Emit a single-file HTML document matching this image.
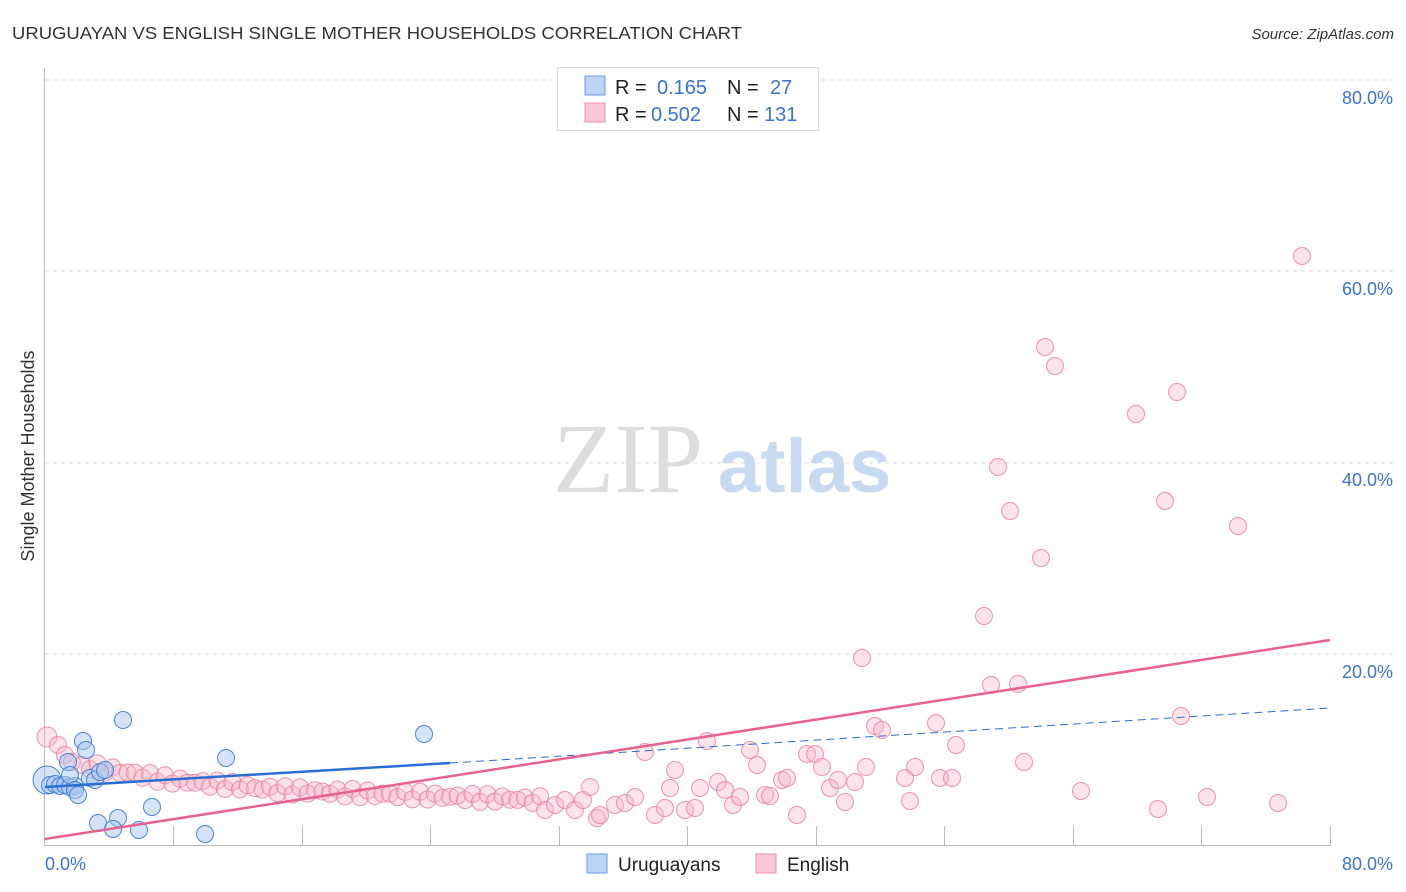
<!DOCTYPE html>
<html><head><meta charset="utf-8"><style>
body{margin:0;background:#fff;width:1406px;height:892px;overflow:hidden;font-family:"Liberation Sans",sans-serif}
svg{position:absolute;left:0;top:0}
</style></head><body>
<svg id="s" width="1406" height="892" xmlns="http://www.w3.org/2000/svg">
<text x="12" y="39" font-size="17.5" fill="#333" textLength="730" lengthAdjust="spacingAndGlyphs">URUGUAYAN VS ENGLISH SINGLE MOTHER HOUSEHOLDS CORRELATION CHART</text>
<text x="1394" y="39" font-size="15" fill="#333" font-style="italic" text-anchor="end">Source: ZipAtlas.com</text>
<g stroke="#ddd" stroke-dasharray="4,4" stroke-width="1">
<line x1="45" y1="80" x2="1393" y2="80"/><line x1="45" y1="271" x2="1393" y2="271"/>
<line x1="45" y1="463" x2="1393" y2="463"/><line x1="45" y1="654" x2="1393" y2="654"/>
</g>
<line x1="44.5" y1="68" x2="44.5" y2="846" stroke="#bbb"/>
<line x1="44" y1="845.5" x2="1331" y2="845.5" stroke="#bbb"/>
<g stroke="#bbb"><line x1="173.5" y1="826" x2="173.5" y2="845"/><line x1="302.5" y1="826" x2="302.5" y2="845"/><line x1="430.5" y1="826" x2="430.5" y2="845"/><line x1="559.5" y1="826" x2="559.5" y2="845"/><line x1="687.5" y1="826" x2="687.5" y2="845"/><line x1="816.5" y1="826" x2="816.5" y2="845"/><line x1="944.5" y1="826" x2="944.5" y2="845"/><line x1="1073.5" y1="826" x2="1073.5" y2="845"/><line x1="1201.5" y1="826" x2="1201.5" y2="845"/><line x1="1330.5" y1="826" x2="1330.5" y2="845"/></g>
<g font-size="18" fill="#3b73d1" text-anchor="end">
<text x="1393" y="104">80.0%</text><text x="1393" y="295">60.0%</text><text x="1393" y="486">40.0%</text><text x="1393" y="678">20.0%</text>
</g>
<text x="45" y="870" font-size="18" fill="#3b73d1">0.0%</text>
<text x="1393" y="870" font-size="18" fill="#3b73d1" text-anchor="end">80.0%</text>
<text transform="translate(34,456) rotate(-90)" font-size="18" fill="#333" text-anchor="middle">Single Mother Households</text>
<text x="553" y="492" font-size="100" fill="#ddd" font-family="Liberation Serif,serif">ZIP</text>
<text x="718" y="492" font-size="76" fill="#c8daf2" font-weight="bold">atlas</text>
<g id="pk" fill="#f7b6c8" fill-opacity="0.4" stroke="#e87a9b" stroke-opacity="0.8" stroke-width="1"></g>
<g id="bl" fill="#a9c8ef" fill-opacity="0.5" stroke="#4a86d6" stroke-width="1"></g>
<line x1="45" y1="787" x2="450" y2="763" stroke="#2a6dd4" stroke-width="2.5"/>
<line x1="450" y1="763" x2="1330" y2="708" stroke="#2a6dd4" stroke-width="1" stroke-dasharray="8,5"/>
<line x1="45" y1="839" x2="1330" y2="640" stroke="#e8628e" stroke-width="2.5"/>
<rect x="557.5" y="67.5" width="261" height="63" fill="#fff" stroke="#ddd"/>
<rect x="585" y="76" width="20" height="19" fill="#bcd5f5" stroke="#6b9be0"/>
<rect x="585" y="103" width="20" height="19" fill="#fcc8d7" stroke="#ec90ac"/>
<g font-size="20"><text x="615" y="94" fill="#222">R =</text><text x="657" y="94" fill="#3b73d1">0.165</text><text x="727" y="94" fill="#222">N =</text><text x="770" y="94" fill="#3b73d1">27</text>
<text x="615" y="121" fill="#222">R =</text><text x="651" y="121" fill="#3b73d1">0.502</text><text x="727" y="121" fill="#222">N =</text><text x="764" y="121" fill="#3b73d1">131</text></g>
<rect x="587" y="854" width="20" height="19" fill="#bcd5f5" stroke="#6b9be0"/>
<text x="618" y="871" font-size="19" fill="#222">Uruguayans</text>
<rect x="756" y="854" width="20" height="19" fill="#fcc8d7" stroke="#ec90ac"/>
<text x="787" y="871" font-size="19" fill="#222">English</text>
</svg>
<script>
var NS="http://www.w3.org/2000/svg";
function c(g,x,y,r){var e=document.createElementNS(NS,"circle");e.setAttribute("cx",x);e.setAttribute("cy",y);e.setAttribute("r",r||8.5);document.getElementById(g).appendChild(e);}
c("pk",47,737,10);c("pk",58,745);c("pk",65,755);c("pk",72,762);c("pk",82,765);
var pts=[[48,740],[70,760],[100,768],[170,780],[280,790],[400,795],[540,800]];
for(var x=90;x<=540;x+=7.5){var y;for(var i=0;i<pts.length-1;i++){if(x>=pts[i][0]&&x<=pts[i+1][0]){var t=(x-pts[i][0])/(pts[i+1][0]-pts[i][0]);y=pts[i][1]+t*(pts[i+1][1]-pts[i][1]);}}y+=Math.sin(x*0.37)*4;c("pk",x,y);}
[[545,810],[555,805],[565,800],[575,810],[583,800],[590,787],[597,818],[600,815],[615,805],[625,803],[635,797],[645,752],[655,815],[665,808],[670,788],[675,770],[685,810],[695,808],[700,788],[707,741],[718,782],[725,790],[733,805],[740,797],[750,750],[757,765],[765,795],[770,796],[782,780],[787,778],[797,815],[807,754],[815,754],[822,767],[830,788],[838,780],[845,802],[855,782],[862,658],[866,767],[875,726],[882,730],[905,778],[910,801],[915,767],[936,723],[940,778],[952,778],[956,745],[984,616],[991,685],[998,467],[1010,511],[1018,684],[1024,762],[1041,558],[1045,347],[1055,366],[1081,791],[1136,414],[1158,809],[1165,501],[1177,392],[1181,716],[1207,797],[1238,526],[1278,803],[1302,256]].forEach(function(p){c("pk",p[0],p[1]);});
c("bl",47,780,14);
[[50,785],[55,784],[60,786],[65,785],[70,787],[75,786],[68,762],[70,775],[75,790],[78,795],[83,741],[86,750],[90,778],[95,780],[100,772],[105,770],[123,720],[98,823],[118,818],[113,829],[139,830],[152,807],[205,834],[226,758],[424,734]].forEach(function(p){c("bl",p[0],p[1]);});
</script>
</body></html>
